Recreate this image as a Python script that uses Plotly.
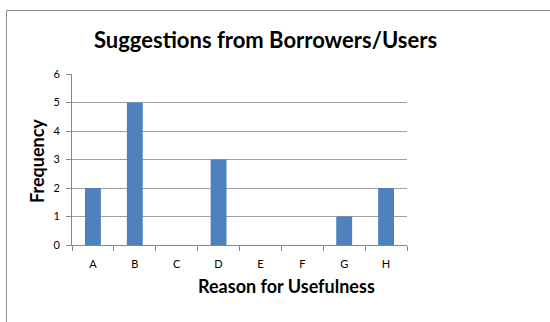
import plotly.graph_objects as go

categories = ["A", "B", "C", "D", "E", "F", "G", "H"]
frequency = [2, 5, 0, 3, 0, 0, 1, 2]
y_ticks = [0, 1, 2, 3, 4, 5, 6]

title_text = "Suggestions from Borrowers/Users"
x_title = "Reason for Usefulness"
y_title = "Frequency"

W, H = 550, 322
L, R, T, B = 72, 143, 74, 77
pw, ph = W - L - R, H - T - B

def px(x):
    return (x - L) / pw

def py(y):
    return (H - B - y) / ph

fig = go.Figure()
fig.add_trace(go.Bar(x=categories, y=frequency, marker=dict(color="#4F81BD", line=dict(width=0)),
                     showlegend=False))

font_main = "Lato, Calibri, Liberation Sans, sans-serif"

fig.update_layout(
    width=W, height=H,
    margin=dict(l=L, r=R, t=T, b=B, pad=0),
    paper_bgcolor="white", plot_bgcolor="white",
    bargap=0.62,
    font=dict(family=font_main, color="#000000"),
    xaxis=dict(
        type="category", showgrid=False, showline=True, linecolor="#878787", linewidth=1,
        ticks="outside", tickson="boundaries", ticklen=5, tickcolor="#878787",
        tickfont=dict(size=11, family=font_main, color="#000"),
        ticklabelstandoff=9,
    ),
    yaxis=dict(
        range=[0, 6], tickvals=y_ticks, showgrid=True, gridcolor="#A0A0A0", gridwidth=1,
        showline=True, linecolor="#878787", linewidth=1, zeroline=False,
        ticks="outside", ticklen=5, tickcolor="#878787",
        tickfont=dict(size=11, family=font_main, color="#000"),
        ticklabelstandoff=4,
    ),
    annotations=[
        dict(text="<b>" + title_text + "</b>", x=px(265), y=py(40), xref="paper", yref="paper",
             showarrow=False, xanchor="center", yanchor="middle",
             font=dict(size=22, family=font_main, color="#000")),
        dict(text="<b>" + x_title + "</b>", x=px(286), y=py(286), xref="paper", yref="paper",
             showarrow=False, xanchor="center", yanchor="middle",
             font=dict(size=18, family=font_main, color="#000")),
        dict(text="<b>" + y_title + "</b>", x=px(37), y=py(161), xref="paper", yref="paper",
             showarrow=False, xanchor="center", yanchor="middle", textangle=-90,
             font=dict(size=18, family=font_main, color="#000")),
    ],
    shapes=[
        dict(type="line", xref="paper", yref="paper", x0=px(6.5), x1=px(6.5), y0=py(10.5), y1=py(H + 2),
             line=dict(color="#8C8C8C", width=1)),
        dict(type="line", xref="paper", yref="paper", x0=px(6.5), x1=px(W + 2), y0=py(10.5), y1=py(10.5),
             line=dict(color="#8C8C8C", width=1)),
    ],
)

fig.write_html("out.html")
